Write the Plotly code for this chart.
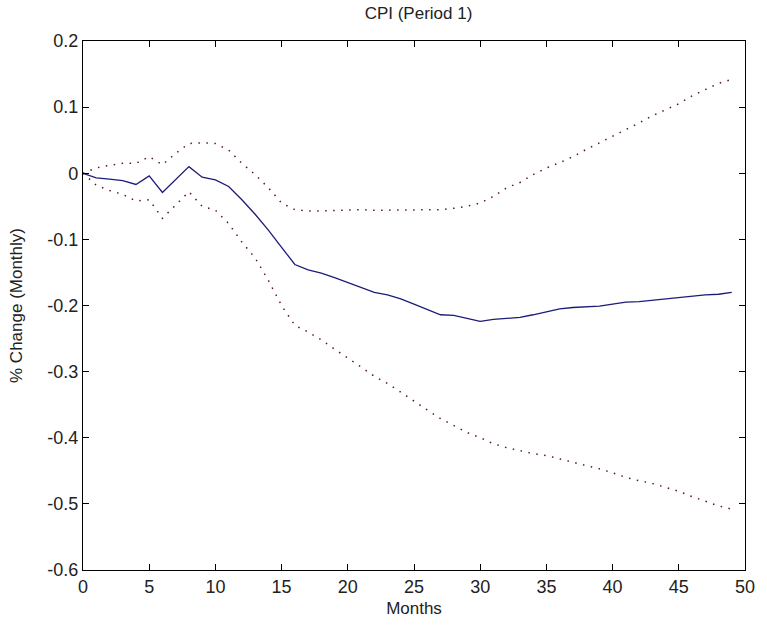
import plotly.graph_objects as go

months = list(range(50))

mean_irf = [0.0, -0.007, -0.009, -0.011, -0.017, -0.004, -0.029, -0.010, 0.010, -0.006,
            -0.010, -0.020, -0.040, -0.062, -0.086, -0.112, -0.138, -0.146, -0.151, -0.158,
            -0.165, -0.172, -0.180, -0.184, -0.190, -0.198, -0.206, -0.214, -0.215, -0.219,
            -0.224, -0.221, -0.219, -0.218, -0.214, -0.209, -0.205, -0.203, -0.202, -0.201,
            -0.198, -0.195, -0.194, -0.192, -0.189, -0.187, -0.185, -0.184, -0.183, -0.180]

upper_band = [0.0, 0.008, 0.012, 0.015, 0.015, 0.025, 0.013, 0.030, 0.045, 0.046,
              0.045, 0.035, 0.015, -0.002, -0.022, -0.045, -0.055, -0.057, -0.057, -0.056,
              -0.055, -0.055, -0.056, -0.056, -0.055, -0.055, -0.055, -0.055, -0.053, -0.050,
              -0.045, -0.035, -0.022, -0.014, -0.002, 0.008, 0.016, 0.025, 0.036, 0.046,
              0.056, 0.065, 0.076, 0.087, 0.096, 0.105, 0.117, 0.127, 0.136, 0.142]

lower_band = [0.0, -0.018, -0.026, -0.032, -0.042, -0.040, -0.068, -0.048, -0.028, -0.050,
              -0.056, -0.076, -0.104, -0.128, -0.162, -0.200, -0.230, -0.240, -0.252, -0.266,
              -0.279, -0.293, -0.307, -0.318, -0.331, -0.345, -0.358, -0.371, -0.382, -0.392,
              -0.400, -0.409, -0.415, -0.420, -0.424, -0.427, -0.432, -0.437, -0.441, -0.447,
              -0.453, -0.460, -0.465, -0.469, -0.475, -0.481, -0.489, -0.496, -0.503, -0.508]

x_ticks = [0, 5, 10, 15, 20, 25, 30, 35, 40, 45, 50]
y_ticks = [0.2, 0.1, 0.0, -0.1, -0.2, -0.3, -0.4, -0.5, -0.6]
y_tick_labels = ["0.2", "0.1", "0", "-0.1", "-0.2", "-0.3", "-0.4", "-0.5", "-0.6"]

FONT = "Liberation Sans, Arial, sans-serif"
dot_color = "#5a1818"

fig = go.Figure()
fig.add_trace(go.Scatter(x=months, y=upper_band, mode="lines",
                         line=dict(color=dot_color, width=1.5, dash="1.5px,6.5px"),
                         showlegend=False))
fig.add_trace(go.Scatter(x=months, y=lower_band, mode="lines",
                         line=dict(color=dot_color, width=1.5, dash="1.5px,6.5px"),
                         showlegend=False))
fig.add_trace(go.Scatter(x=months, y=mean_irf, mode="lines",
                         line=dict(color="#1c1c78", width=1.3),
                         showlegend=False))

axis_common = dict(showgrid=False, zeroline=False, showline=True, linecolor="black",
                   linewidth=1.2, mirror="allticks", ticks="inside", ticklen=6,
                   tickcolor="black", tickwidth=1.2,
                   tickfont=dict(family=FONT, size=18, color="#222"))

fig.update_xaxes(range=[0, 50], tickvals=x_ticks, **axis_common,
                 title=dict(text="Months", font=dict(family=FONT, size=17, color="#222"), standoff=6))
fig.update_yaxes(range=[-0.6, 0.2], tickvals=y_ticks, ticktext=y_tick_labels, **axis_common,
                 title=dict(text="% Change (Monthly)", font=dict(family=FONT, size=17, color="#222"), standoff=20))

fig.update_layout(
    width=767, height=634,
    margin=dict(l=83, r=13, t=41, b=64),
    plot_bgcolor="white", paper_bgcolor="white",
    title=dict(text="CPI (Period 1)", x=(83 + 754) / 2 / 767, xanchor="center",
               y=1 - 13 / 634, yanchor="middle",
               font=dict(family=FONT, size=17, color="#222")),
)

fig.write_html("out.html")
